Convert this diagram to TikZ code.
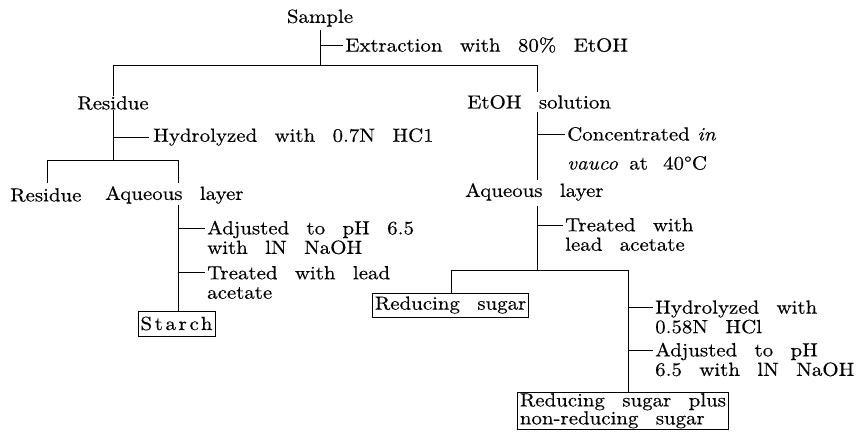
\documentclass[tikz,border=0pt]{standalone}
\usepackage{fontspec}
\setmainfont{lmroman10-regular.otf}[FakeStretch=1.1, WordSpace=2.5, FakeBold=0.4, ItalicFont=lmroman10-italic.otf]
\begin{document}
\begin{tikzpicture}[x=1pt,y=-1pt,
  txt/.style={inner sep=0pt, anchor=west, align=left, font=\fontsize{19}{19.5}\selectfont},
  ctxt/.style={inner sep=0pt, anchor=center, font=\fontsize{19}{19.5}\selectfont},
  boxed/.style={draw, line width=0.8pt, inner xsep=2.5pt, inner ysep=3pt, align=left, font=\fontsize{19}{18}\selectfont},
  ln/.style={line width=0.8pt}]
\useasboundingbox (0,0) rectangle (861,434);
% nodes
\node[ctxt] (sample) at (320,18) {Sample};
\node[txt] (extr) at (345,45) {Extraction with 80\% EtOH};
\node[ctxt] (res1) at (113,103) {Residue};
\node[txt] (hyd1) at (153,137) {Hydrolyzed with 0.7N HC1};
\node[txt] (res2) at (10,195) {Residue};
\node[txt] (aq1) at (105,195) {Aqueous layer};
\node[txt] (adj1) at (207,237.5) {Adjusted to pH 6.5\\with lN NaOH};
\node[txt] (tr1) at (207,282.5) {Treated with lead\\acetate};
\node[boxed, minimum width=77pt, minimum height=25pt] (starch) at (176.5,323.5) {\addfontfeature{LetterSpace=14}Starch};
\node[txt] (etoh) at (467,102) {EtOH solution};
\node[txt] (conc1) at (567,134) {Concentrated\hspace{0.4em}\textit{in}};
\node[txt] (conc2) at (567,163) {\textit{vauco}\hspace{0.6em}at\hspace{0.8em}40\textdegree C};
\node[txt] (aq2) at (465,192) {Aqueous layer};
\node[txt] (tr2) at (565,234.5) {Treated with\\lead acetate};
\node[boxed, anchor=west, minimum height=24pt] (red) at (372,305) {Reducing sugar};
\node[txt] (hyd2) at (655,317) {Hydrolyzed with\\0.58N HCl};
\node[txt] (adj2) at (655,359.5) {Adjusted to pH\\6.5 with lN NaOH};
\node[boxed, anchor=north west, inner ysep=0.8pt] (fin) at (517,392) {Reducing sugar plus\\non-reducing sugar};
% coordinates
\coordinate (s0) at (320,30);
\coordinate (s1) at (320,65);
\coordinate (sb) at (320,45);
\coordinate (L0) at (113,65);
\coordinate (R0) at (537,65);
\coordinate (L1) at (113,160);
\coordinate (Lb) at (113,137);
\coordinate (LL) at (47,160);
\coordinate (LR) at (178,160);
\coordinate (LLd) at (47,183);
\coordinate (LRd) at (178,183);
\coordinate (A0) at (178,205);
\coordinate (Ab1) at (178,228);
\coordinate (Ab2) at (178,272);
\coordinate (R1) at (537,92);
\coordinate (R2) at (537,112);
\coordinate (R3) at (537,180);
\coordinate (Rb1) at (537,134);
\coordinate (R4) at (537,206);
\coordinate (R5) at (537,270);
\coordinate (Rb2) at (537,225);
\coordinate (RL) at (451,270);
\coordinate (RR) at (628,270);
\coordinate (Rb3) at (628,307);
\coordinate (Rb4) at (628,350);
% connectors
\draw[ln] (s0) -- (s1);
\draw[ln] (sb) -- ([xshift=-2pt]extr.west |- sb);
\draw[ln] (L0) -- (R0);
\draw[ln] (L0) -- (L0 |- res1.north);
\draw[ln] (L0 |- res1.south) -- (L1);
\draw[ln] (Lb) -- ([xshift=-4pt]hyd1.west |- Lb);
\draw[ln] (LL) -- (LR);
\draw[ln] (LL) -- (LLd);
\draw[ln] (LR) -- (LRd);
\draw[ln] (A0) -- (A0 |- starch.north);
\draw[ln] (Ab1) -- ([xshift=-2pt]adj1.west |- Ab1);
\draw[ln] (Ab2) -- ([xshift=-2pt]tr1.west |- Ab2);
\draw[ln] (R0) -- (R1);
\draw[ln] (R2) -- (R3);
\draw[ln] (Rb1) -- ([xshift=-2pt]conc1.west |- Rb1);
\draw[ln] (R4) -- (R5);
\draw[ln] (Rb2) -- ([xshift=-2pt]tr2.west |- Rb2);
\draw[ln] (RL) -- (RR);
\draw[ln] (RL) -- (RL |- red.north);
\draw[ln] (RR) -- (RR |- fin.north);
\draw[ln] (Rb3) -- ([xshift=-2pt]hyd2.west |- Rb3);
\draw[ln] (Rb4) -- ([xshift=-2pt]adj2.west |- Rb4);
\end{tikzpicture}
\end{document}
